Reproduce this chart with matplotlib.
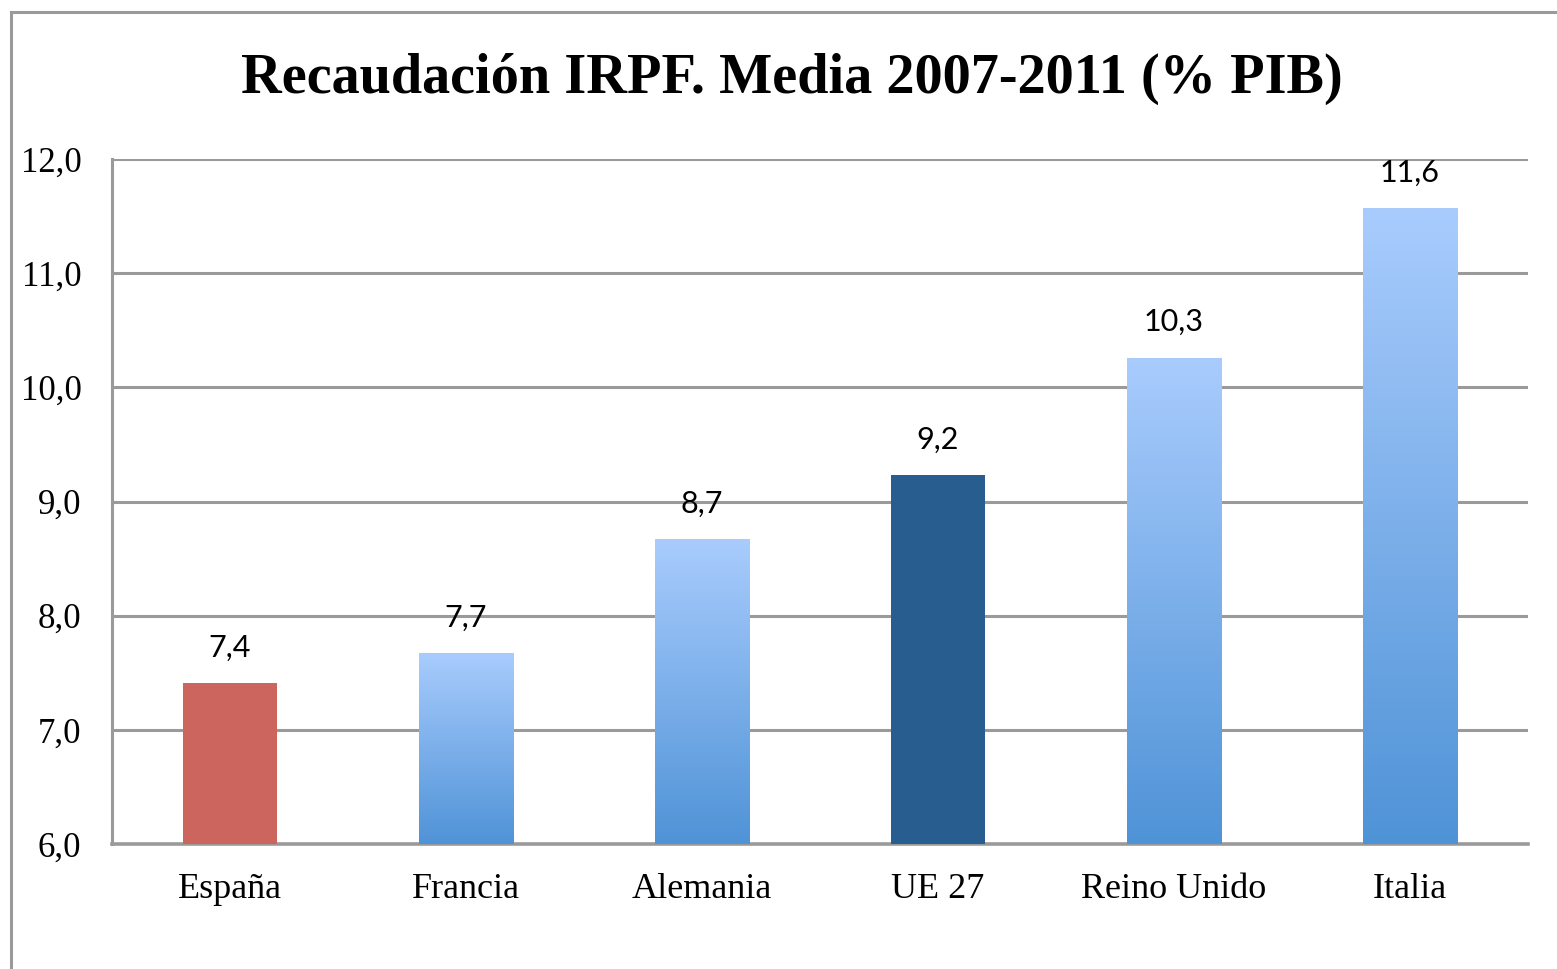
import numpy as np
import matplotlib
matplotlib.use("Agg")
import matplotlib.pyplot as plt
from matplotlib.colors import LinearSegmentedColormap
from matplotlib.lines import Line2D

# Data
countries = ["España", "Francia", "Alemania", "UE 27", "Reino Unido", "Italia"]
values = [7.41, 7.67, 8.67, 9.23, 10.26, 11.57]
labels = ["7,4", "7,7", "8,7", "9,2", "10,3", "11,6"]
yticks = [6, 7, 8, 9, 10, 11, 12]
ytick_labels = ["6,0", "7,0", "8,0", "9,0", "10,0", "11,0", "12,0"]

SOLID = {"España": "#cc655e", "UE 27": "#285e8f"}
GRAD = LinearSegmentedColormap.from_list("blues", ["#4f93d7", "#a9ccfd"])
GRID = "#9a9a9a"

fig = plt.figure(figsize=(15.57, 9.69), dpi=100)
ax = fig.add_axes([112 / 1557, 1 - 844 / 969, 1416 / 1557, 685 / 969])

x = np.arange(len(countries))
width = 0.40
ymin, ymax = 6.0, 12.0

bars = ax.bar(x, [v - ymin for v in values], width, bottom=ymin,
              color="none", edgecolor="none", zorder=3)
grad = np.linspace(0, 1, 256).reshape(-1, 1)
for i, (bar, name) in enumerate(zip(bars, countries)):
    if name in SOLID:
        bar.set_facecolor(SOLID[name])
    else:
        # vertical gradient, dark at the base, light at the top
        im = ax.imshow(grad, cmap=GRAD, origin="lower", aspect="auto",
                       extent=[x[i] - width / 2, x[i] + width / 2, ymin, values[i]],
                       zorder=3, interpolation="bilinear")
        im.set_clip_path(bar)
    ax.text(x[i], values[i] + 0.19, labels[i], ha="center", va="bottom",
            fontsize=22, family="Lato", color="black", zorder=4)

ax.set_xlim(-0.5, len(countries) - 0.5)
ax.set_ylim(ymin, ymax)
ax.set_yticks(yticks)
ax.set_yticklabels(ytick_labels, family="Liberation Serif", fontsize=25)
ax.set_xticks(x)
ax.set_xticklabels(countries, family="Liberation Serif", fontsize=26)
ax.tick_params(axis="y", length=0, pad=22)
ax.tick_params(axis="x", length=0, pad=21)

ax.grid(axis="y", color=GRID, linewidth=2.2, zorder=1)
ax.set_axisbelow(True)
for side in ["top", "right"]:
    ax.spines[side].set_visible(False)
ax.spines["left"].set_color(GRID)
ax.spines["left"].set_linewidth(2.2)
ax.spines["bottom"].set_color(GRID)
ax.spines["bottom"].set_linewidth(2.6)

fig.text(792 / 1557, 1 - 79 / 969, "Recaudación IRPF. Media 2007-2011 (% PIB)",
         ha="center", va="center", fontsize=40.5, fontweight="bold",
         family="Liberation Serif")

# outer chart border (left and top edges only)
fig.add_artist(Line2D([11 / 1557, 11 / 1557], [0, 1 - 12 / 969],
                      transform=fig.transFigure, color=GRID, linewidth=2.2))
fig.add_artist(Line2D([11 / 1557, 1], [1 - 12 / 969, 1 - 12 / 969],
                      transform=fig.transFigure, color=GRID, linewidth=2.2))

fig.savefig("out.png", dpi=100)
